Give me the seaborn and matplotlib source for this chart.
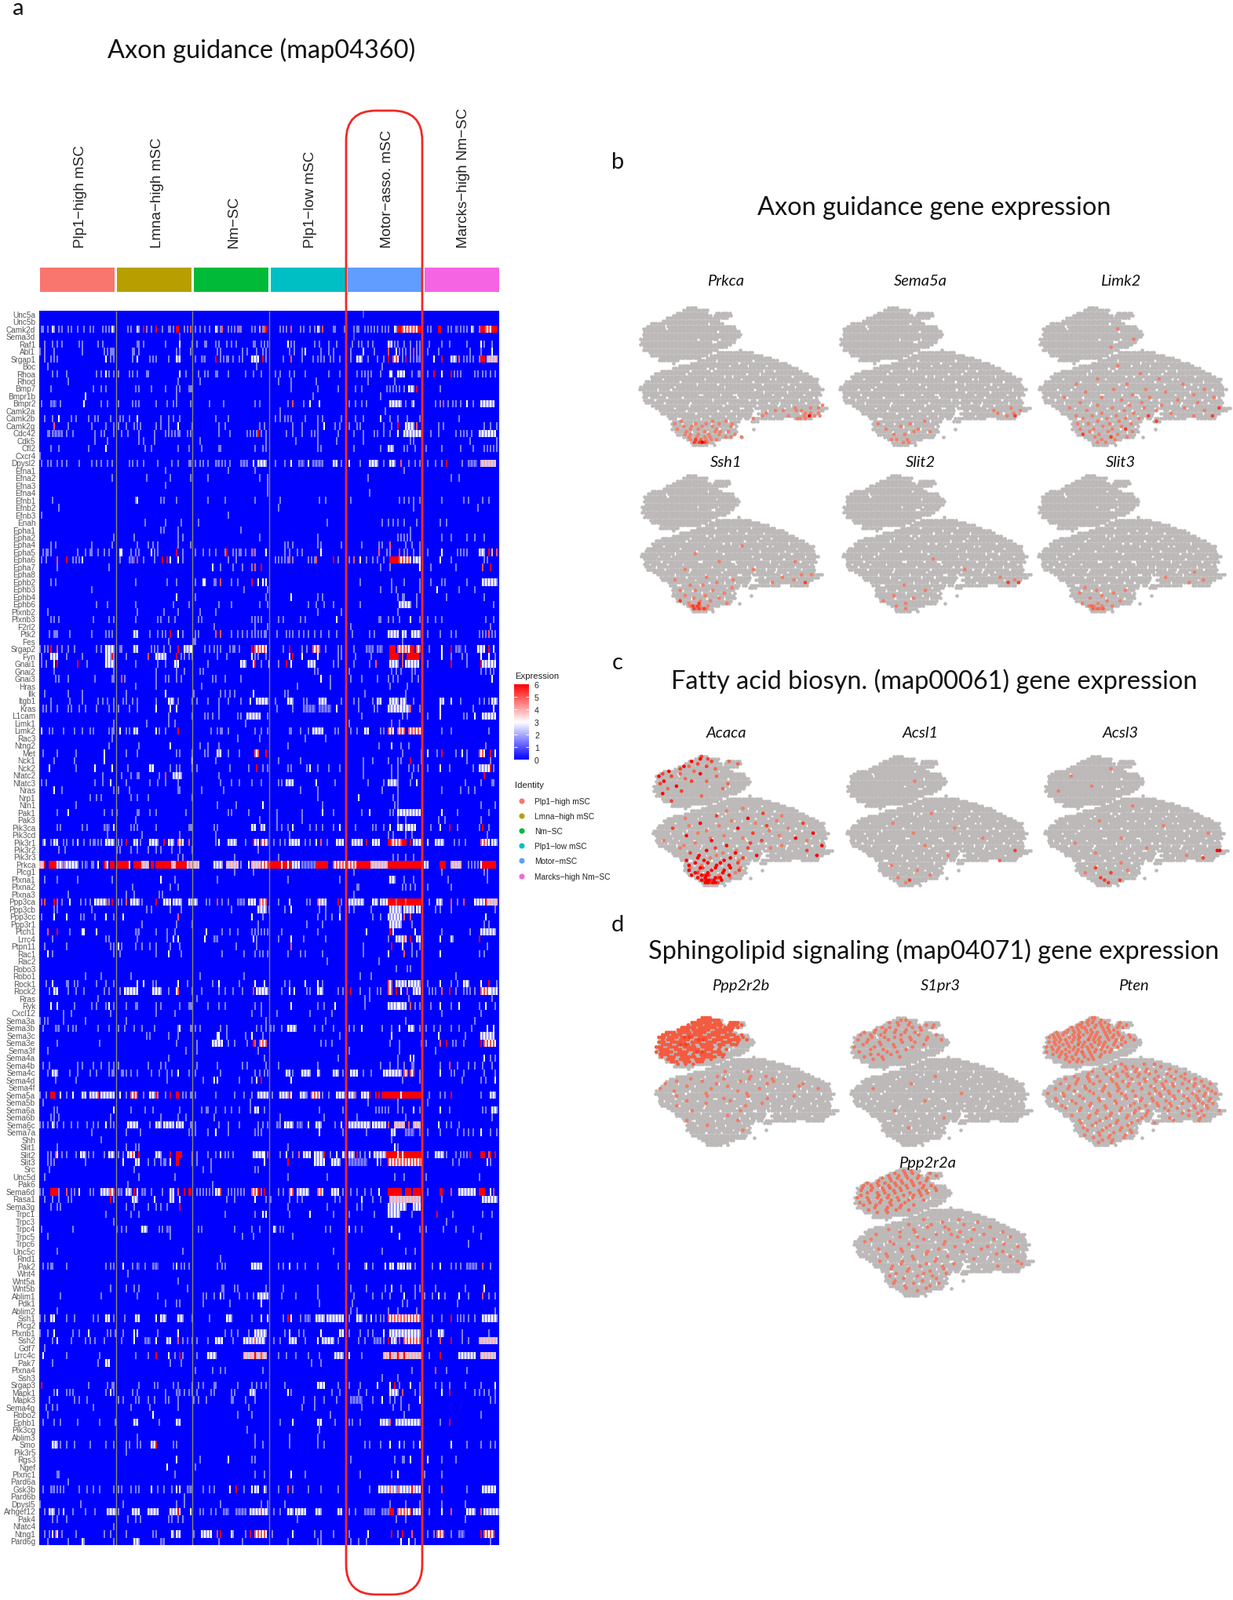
import numpy as np
import pandas as pd
import matplotlib
matplotlib.use("Agg")
import matplotlib.pyplot as plt
from matplotlib.colors import LinearSegmentedColormap, ListedColormap
from matplotlib.patches import FancyBboxPatch
import seaborn as sns

W, H = 1571, 2040

GROUPS = ["Plp1\u2212high mSC", "Lmna\u2212high mSC", "Nm\u2212SC", "Plp1\u2212low mSC", "Motor\u2212asso. mSC", "Marcks\u2212high Nm\u2212SC"]
IDENTITY = ["Plp1\u2212high mSC", "Lmna\u2212high mSC", "Nm\u2212SC", "Plp1\u2212low mSC", "Motor\u2212mSC", "Marcks\u2212high Nm\u2212SC"]
GROUP_COLORS = ["#F8766D", "#B79F00", "#00BA38", "#00BFC4", "#619CFF", "#F564E3"]

GENES = """Unc5a Unc5b Camk2d Sema3d Raf1 Abl1 Srgap1 Boc Rhoa Rhod Bmp7 Bmpr1b Bmpr2 Camk2a Camk2b Camk2g Cdc42 Cdk5 Cfl2 Cxcr4
Dpysl2 Efna1 Efna2 Efna3 Efna4 Efnb1 Efnb2 Efnb3 Enah Epha1 Epha2 Epha4 Epha5 Epha6 Epha7 Epha8 Ephb2 Ephb3 Ephb4 Ephb6
Plxnb2 Plxnb3 F2rl2 Ptk2 Fes Srgap2 Fyn Gnai1 Gnai2 Gnai3 Hras Ilk Itgb1 Kras L1cam Limk1 Limk2 Rac3 Ntng2 Met
Nck1 Nck2 Nfatc2 Nfatc3 Nras Nrp1 Ntn1 Pak1 Pak3 Pik3ca Pik3cd Pik3r1 Pik3r2 Pik3r3 Prkca Plcg1 Plxna1 Plxna2 Plxna3 Ppp3ca
Ppp3cb Ppp3cc Ppp3r1 Ptch1 Lrrc4 Ptpn11 Rac1 Rac2 Robo3 Robo1 Rock1 Rock2 Rras Ryk Cxcl12 Sema3a Sema3b Sema3c Sema3e Sema3f
Sema4a Sema4b Sema4c Sema4d Sema4f Sema5a Sema5b Sema6a Sema6b Sema6c Sema7a Shh Slit1 Slit2 Slit3 Src Unc5d Pak6 Sema6d Rasa1
Sema3g Trpc1 Trpc3 Trpc4 Trpc5 Trpc6 Unc5c Rnd1 Pak2 Wnt4 Wnt5a Wnt5b Ablim1 Pdk1 Ablim2 Ssh1 Plcg2 Plxnb1 Ssh2 Gdf7
Lrrc4c Pak7 Plxna4 Ssh3 Srgap3 Mapk1 Mapk3 Sema4g Robo2 Ephb1 Pik3cg Ablim3 Smo Pik3r5 Rgs3 Ngef Plxnc1 Pard6a Gsk3b Pard6b
Dpysl5 Arhgef12 Pak4 Nfatc4 Ntng1 Pard6g""".split()

# expression: "col" or "from-to", ":value", 293 columns across
HITS = {
"Unc5a": "206:1",
"Camk2d": "1 2 5 8-9:3 12 14 18 20 24 28 32 34 40 42 44 46-47:3 56 58 62-63:3 66:6 68 71 74:6 78 82 83 85 87-88:6 92 94 96:5 99 102 105 108 112-113:3 115 116:5 120 122 124 126 127:5 128 135 137 140:4 142 143:5 144:6 153 155 157 160:5 166 168 172 175 177-178:3 180:5 187 188 194 200 202 203 207 209 211 213 215 218 220 222 226-227:3 228-230:6 231-240:5 241-243:6 247 249 254-255:6 260 262 265-266 268 270 272 275-276:3 280 281-283:6 284-287:5 288-291:6",
"Sema3d": "89:1 200:1",
"Raf1": "3 8 11 14 25 27 37 40 62 63 66 80 89:3 97 100 105 106 112 114 119 122 125 136 137 141 143 145 158:3 160 162 175 178 184 189 199 203 205 209 212 222-224:3 226 228 232 236 240 242 248 256 261 272 281:3 283 288",
"Abl1": "0 3 9 27 41 43 45 46 47 59 60 63 87 89 96 113 115 129 132 138 142 144 159 162 167 169:3 179 184 187 198 206:3 213 222:5 227:3 229 231 233 236 238:5 240 242 247 254 274 281 288:3",
"Srgap1": "3 7 9 11 42:3 45 47 59 62:3 70 72 74 82 87-89:3 99 103-105 112:6 115 117 119 120 123 127 129 135-139:3 142:6 144 155 160:5 167 174 177 179 181 185 187 191 195 198 202-205:3 209 215 219 222:6 225-228:5 231 233:6 236 238 240-242 251:3 256:6 262-265:3 267:5 270 272 274 276 280 281-283:6 285-291:4",
"Boc": "5 138 218",
"Rhoa": "8 11 17 36 39 42:3 44 47 50 57 59 62 68 69 89:3 93 101 105 107 112 113 120 131 136 141 150 153 159 162 169 184 191 202 205 207 209 211 217 223:3 224:3 228-232:3 237 241 242 247 251:6 256:3 262:6 264 266 268 277 279 282 284 287 290",
"Rhod": "18 88 102 152 160 176 209 226",
"Bmp7": "7 34 39 42 61 63 71 80 87 89 95 97 96 160 177 190 201 205 221 223 225 227 229 232 235-238:3 240:6 255",
"Bmpr1b": "29:3 87 174 217",
"Bmpr2": "1 7-10 13 28:3 39 43 50 59 61 63 74 81 85 87 96 108 117 137 140 158 161:5 168 172:3 178:3 197 201 205 208 223-230:3 233 237 238:3 252 255 257:5 260 263 265 268 272:3 276 281-289:3",
"Camk2a": "153 220",
"Camk2b": "3 8 12:3 20 23 31 35 37 45 51 53 57 62:3 77 82 85 89 112 120 150 153 156 158 160 169 177 180 192 201 206 217:3 223 228 234 242 267",
"Camk2g": "9:5 18 33 42 47 50 55 60 62 64 74 77 82 88:3 97 114 118 140 143 161 167 177 181:3 188 191 197 202 204 219 224 228:6 233-238:3 240:5 254 257 283 287 291",
"Cdc42": "5 6 8-14 17 21 35 39 41 47 52 56 63 73 80 82 84 86 88 89 94 96 114 121 132 134 136 138 139:6 141 144 157 161 167 173 175 177 190 195 200 206 213 215 219 223 228:3 232-243:3 249 254 265 268 270 272 275 280-290:3",
"Cdk5": "35 43 63 66 73 102 144 163 177 189 206 236 238 274 291",
"Cfl2": "7 12 31 42:3 67 71 88 95 103 114 115 137 142 144 177 179 200 217 222-225:3 232 234 239 246 256 268 276 283 285 287 289 291",
"Cxcr4": "0",
"Dpysl2": "1 5 7 11 14 17 25 33 36 39 43 46 57 59 62 66 75 84 88 95 96 99 102 104 107 112-114 116 118 121 128-132 136:3 139-144:3 150 156 160:3 165-168 171:3 174-180 187-189:3 192 197:3 204 210-215:3 219 223-226:3 230:5 235 239 242 247 252 256 259:6 269 273-278 281-290:4",
"Efna1": "80 120 137 232",
"Efna2": "46 68 83 96 107 140 145 209 262 267",
"Efna3": "80 145",
"Efna4": "145 210",
"Efnb1": "8 61 62:3 77 79 87 107 118 137 153 178 182 198 229 232 235 238 242 256 270 273 282 286",
"Efnb2": "12 152 238 279",
"Efnb3": "1 120",
"Enah": "67 80 90 101 183 218 222 225 228 232 240 255 259",
"Epha1": "77 79 88 128 236",
"Epha2": "47 60 88 91 140 177 228 230 232 234 236 256 262 272 277 283",
"Epha4": "7 10 33 46 62 69 72 75 88 96 156 158 161 177 179 192 195 205 216 218 223:5 233 237 242",
"Epha5": "2 4 5 7 24 29 32 33 37 41 44 51:3 52:3 58 61 63 71:3 73 75 87:6 91 99 104 108 112 118 119:6 123 125 127 128 131 135 136:6 137 144:3 156 159 164 167 179:3 216:5 221 223 229:5 232 234 238 242 247 256:3 266 268 270 272 280-283:3 286:6 288:4 291:5",
"Epha6": "1 4 11:5 17:6 21 23 25 27:3 51 57-60 62:5 66 73 78:6 81:6 83:3 88:3 91 120 125 150 152 154 156 158 159:5 161 171 173 175 176:5 187:6 190 195 197 200:5 204:3 208 212 215 219 223-228:6 229-236:5 238-242:3 255:3 262 283 285",
"Epha7": "11 44 110:3 115 123 129 135 137:5 141:6 217 223 242:3 249 265 282:5 287:6",
"Ephb2": "7 10 61 81 87 99 104:3 105:3 111 112 115:5 122 126 135:6 139:3 142:3 144:3 204 224 232 242 249 256 258 272 282-291:3",
"Ephb3": "33 130 145 217 224 227 242 253:3 267 277",
"Ephb4": "87:3 99 144 160:3 177 180 228 231 232 240 259 283",
"Ephb6": "36 43 61 85 95 114 122 140 145 171 176 181 187 204 229-236:3 240 289",
"Plxnb2": "5 62 79 88 102 112 177 192 228",
"Plxnb3": "7 9 12 34 44 47 61 75 77 82 86 101 103 135 137 139 141 152 155 166 169 189:3 216 217 222 225 229 236:3 242 247 252 256 284 289",
"F2rl2": "111 137 145 198 287",
"Ptk2": "6 9 10 11 19 33 42 44 46 60-62:3 70 75 78 80 83:6 88:3 91 99 101 112:5 115:5 122 126 129 132 135 137 139 141 143 144 151 157 159 161 165 168 171 175 179 184 189 199 210 213 222-228:3 231-233:3 237-242:3 247 255 262 265 280 282 284 286:5 288 290",
"Fes": "82 98 99 231",
"Srgap2": "0 3 5 7:6 11:5 14 18 22 36 39 42-47:3 51 52 60-62:3 71 73 75 79 83 88:6 92-96:3 97:3 105 108 111 113 115 121 123 124 127 135:6 137-144:5 155 159:6 167 170 174-178:5 182 190 192 200 208-212 215-218 223-226:6 228-235:5 236-238:6 240-242:5 248 256:3 262:6 265-268 271 279-283:3 286:6 289:3",
"Fyn": "1 7-11:3 17 27 42-45:3 46:6 47 55 69:5 74-80:3 87:6 90 92 95 97 113 119 135:3 137 139 144 159:3 161:6 167:3 177:3 190 192 201 211 223-228:6 231:5 234-241:6 256:3 262 269 272 281:3 286:3 290",
"Gnai1": "1 4 9:3 11:6 24:6 30 42-47:3 61 75 80 86-88:3 107 128-131:3 136:3 137:6 141 146:3 152 157:6 160:3 171-175:3 187 190 200 210 214:5 223-228:3 231:5 233-241:3 247 262:6 272 281:6 282-290:3",
"Gnai2": "9 47 74 87 92 102 104 175 177 197 224 227 230 237 239 281 284 287 289",
"Gnai3": "10 12 18 35 46 47 52:5 54 74 80 82 87 90 110 112 118 128 179:3 185 198 205 215 222 225 228 237 241 288:3",
"Hras": "61 74 103 164 185 223 234",
"Ilk": "3 18 27 55 80:3 98 115 118 121 124 136:3 156 158 207 233",
"Itgb1": "7 19 27 37 40 43 47 53 55 59 62 74 82-85:3 88 97 100 107 114 120 128 134:3 138-145:3 150 158-161:3 168 170 178-182:3 192 200 203 212 215-217:3 223-228:3 230-233:3 238 255-257:3 262:3 268 280 283 286 288-291:3",
"Kras": "2 4 7 11 18 20 25 29 36 44 47 50 57 62 74:3 83:3 87:3 114 151 161 168-175 178-185 189:3 195 203 213 215 222-227:3 228-235:3 236:5 242 255:3 276 289:3",
"L1cam": "82 97 105 107 110 114 126 128 132-140:3 145 205 231 234 247 255:3 270 272 277:3 282-290:3",
"Limk1": "47 68 82 86 131 197 224 229",
"Limk2": "1:3 6 8 15 22 27 32 34 44 46 47 51:3 55 57 60-62:3 74:3 76 80 88:6 109 113 115 116 120 137 141 145 159 160 166 171 174-180:3 188 190 198 202 207-209:3 217 219 222-225:5 228-232:5 235-243:5 256 262 286",
"Rac3": "46 126 140 169 182",
"Ntng2": "44 63 83:3 102 107 114 158 216 224:3 230 235 284",
"Met": "2 11 23 41:3 55 62 87 89 97 105 107 113-115:3 120 127 137-139:5 144:6 231 243 247:3 253 256:6 265 269:3 272 280-283:5 287:6 290:3",
"Nck1": "9 22 41:3 97:3 112 152 166 206 212 222 228 230 236:6 243 272 287",
"Nck2": "6:3 23 35:3 46:3 56 70-72:3 83 87 89 97 100 121 133 138:6 142 145 158 160 170 172:3 177 184 191 206 224 228 235 238 241 247 255:3 261 276 280-286:3 287:6 289",
"Nfatc2": "40 52 58 62 63 76 80:5 85-90:3 114 206 224 228 237 283:6",
"Nfatc3": "1 4 35 40 45:3 55 70 75 80 88 115 122 127 135 141 152 154 157-161:3 176:3 188 209 219 222-227:3 228 236 240:3 271 281 288 289",
"Nras": "9:3 14 47 50 57 88 89 103 117 166 177 218 228 256 268 273 277",
"Nrp1": "32 36 39 58 62 69 97 177 203:3 225 228",
"Ntn1": "23 113 125 142:3 180 226 228 281 290",
"Pak1": "11 18:3 41 46 49 62 63 70 74 93 120 122 133 151 167 180:3 187 205 210:3 223 225 228-242:3 256:3 266 286",
"Pak3": "61 140 151 167 228 233 254 258 281",
"Pik3ca": "11 13 27 30 41-44 47:3 58 60 62 74 95 97 96 111 113 135-137:3 141-143:3 151 154 158 161:3 172 176 180 187 191:3 195 201 212 214 219 223:3 228-231:3 233-239:3 249 255:3 261:6 266 280 282:6 286",
"Pik3cd": "43 65 89 112 159 222 225 233 237 285",
"Pik3r1": "2 3:3 7 9-11:3 15 17 21 24:3 28 32 34 35 37 39 42-47:3 50 52 55:6 60-62:3 64 70-75:3 79:6 82-85:3 88-91:5 95:5 112 114:3 120-125:3 131 136:6 137-139:3 141-144:5 145 149 153 156 159-165:3 169 172 176:3 179:5 183 189-193:3 199-205:3 208:6 212-216:3 222-223:6 224-230:5 231-233:6 236:6 238-243:3 247:3 252-257:3 264 267 271 281-286:5 288-291:3",
"Pik3r2": "12 16 49 51 58 62 69 74 77 84 89 97 139",
"Pik3r3": "88 91 124 152 225 228 233 238",
"Prkca": "0-2:4 3:6 6-10:6 11-20:3 15:5 21-24:3 27 29-30 33 34 37:3 41:6 42-43:5 45-47:6 49-56:6 57:3 60-64:6 65-69:4 71-72:6 74-83:6 84-86:4 87-93:6 94-95:3 96-97:4 98-101:4 111-116:3 119-126:4 128 133:3 135-140:4 141-145:5 146-160:6 154:3 158:3 161-165:3 167-175 176-183:6 187-195:5 196-201:5 202-210:6 211-221:4 222-243:6 245-247:3 255-258:6 262-268:4 273 275 277 279 281:3 282-290:6",
"Plcg1": "124 136 200 256 283 285",
"Plxna1": "3 11 24 46 77:3 86 113 158 191 223-226:3 232 238 260 285",
"Plxna2": "59 83 88 202 203 231 233 236 239 247 262",
"Plxna3": "18 55 60 76 78 200",
"Ppp3ca": "1:5 3:5 9:6 11:5 14 19:3 26 29 32 35-42:3 43:6 44 46:6 50 52 55:5 58-63:3 65 74:6 79-83:3 85-90:3 95-100:3 106 108 113:5 116 120 126-130 133-137:3 140-144:5 152 159:3 170 172 177:5 178-182:3 190:6 192 197-206:3 212-215:3 217-221:3 222-243:6 227:5 233:5 248 253-256:3 262:5 266 270:5 277-283:3 284:6 285-291:4",
"Ppp3cb": "9 11 33 68 71 83 90 122 139-144:3 146 156 160:3 178 182 191 197 200 211 223-230:3 232-238:3 240-242:3 252 255 262 290",
"Ppp3cc": "1 9:3 17:3 26 28 35 42:3 47 53:3 88:5 135:3 142 177 182 186 191:3 212 217 222-230:3 232:5 236:5 284:3",
"Ppp3r1": "65 87 97 139 170 180 223-230:3 237 283 286",
"Ptch1": "5:5 11:6 19 27:3 28:3 36:3 61-63 74 81 86 106:3 116 121 126 135 137 139 141 143 145 154 177 208:3 223:6 225:3 239:3 256 274 281-290:3",
"Lrrc4": "8 42 44 62 81 85:3 88:3 105:3 111-113 136:3 138 152 160:3 168 182 222 227-233:3 232:5 236:6 240-242:3 255:3 262-263:3 280:6",
"Ptpn11": "3 17 45 47 50:3 52 61 65 70 74 83 89 125 138 160:5 206 224:6 231:3 237 242 285",
"Rac1": "5:3 8 47 51 74 82:3 90 116 130 137 140 142 145 158 166 169 180 206 222:3 232:5 237 240 255:3 280 283",
"Rac2": "183 216",
"Robo3": "227 234 236",
"Robo1": "29 39 58 102 130 204 211 265",
"Rock1": "4 8:3 17 18 22 24 36 42 47 62:3 66:3 72 74 88:3 94 110 114:3 127 137:3 143:3 156 159 169:3 177:3 180 222-224:5 227-233:3 235-242:3 247 255:3 262 266 270-273:3 281:3 286:6 291",
"Rock2": "6 9-11:3 18 23 28 41 44 51 54-62:3 72-77:3 82 87:3 88:5 97 103 114 118 123 129 136:5 138-145:3 154 159:3 162:3 170 172 177-180:3 190 193 198:6 204 210 215 217 222-224:5 227:6 230:3 234:5 238-242:3 248 250 252 256:5 261:6 265 270 272 274 277 281-286:5 287-291:3",
"Rras": "37 100 207 210 235 288",
"Ryk": "7:3 11:3 22 33 36 42 44:3 47 55 61 62 74 77 89 95 96 97 107 114 118 137 141 160:3 177 181 188:3 195 207 222-228:3 229-233:3 236:5 239 242 249 255:3 262 267:3 280 284:3 290",
"Cxcl12": "15 20 45 74 86 135 141 151 172 186 256 281",
"Sema3a": "0 3 5 15 29 55 144 182 233 277",
"Sema3b": "2 10-12 18 21 23 37 44 50 54 60 65 73 88 89:3 96 97 99 102 115 119 138 141 144 147 149 154 158-163:3 175 180 187 197 200 205:3 218 224 229:3 235-238:3 242 246 251 255 262 267 275 285:3 289:3",
"Sema3c": "68 70 82 88 113:3 114:3 119 131 135:3 142 191 224:3 254:3 271 281-289:3",
"Sema3e": "11 38 87 100 110-116:3 120 124 132 136:6 137:5 140-144:5 179 182 186 223 229 243 246 255:5 259:6 263 265 270 281:6 283-290:5",
"Sema3f": "5 93 100 139 197 229 252",
"Sema4a": "82 143 190 228 236:3 238:3 283:3 287 290",
"Sema4b": "2 6 24 27 34 39 44 47 50 69 77 80 100 113 129 132 144 152 177 217 223 228 232 237 238 255 261:5 266 273 277 282 288",
"Sema4c": "5 8-11:3 19 24 32 36 44 46 47 52 53 55 58 62 71 76 81 84 88:3 95 99 115 137 140 143 145 157-159:3 161 167-172:3 177-178:3 187-190:3 193 198-202:3 206 211 219-230:3 232-234:5 236-238:5 242 255:3 262 264 270 283 290",
"Sema4d": "10 23 81 104 111:3 113:3 127 135 138:3 141:6 160:3 231 242 269 281 284 290:3",
"Sema5a": "0 4 7-9:6 13:3 17 21:3 27-29:3 32-36:3 37:5 39-47:3 51:3 55 58-61:5 62:6 66 70-73:3 74:6 75 80 83:6 87-88:6 91 93 96 97 99 112 124 130 135 139-145:3 148 153-158:3 159:6 160:3 166-169:3 170 173-178:5 180 184 189-194:3 195:6 197-200:3 201:5 205-209:3 210:6 214:6 216:6 218-243:6 230:3 248 255 258 262:6 281 287-290:3",
"Sema5b": "2 134 209 228 247",
"Sema6a": "9 11 47:3 58 67 72 89 103 106 107 112 118 122 127 134 137-139:3 143 178 193 214 216 218 220 222 228 231 238:3 242 255:3 261 282 284 288-291:3",
"Sema6b": "7 9 12 45 77 88 93 111 153 181 202 233 288",
"Sema6c": "0 2 5 8-9:3 11 15 20 24 30 34 37 42:3 45 47 56-62:3 70 74-77:3 79-85:3 87-91:3 96 97 99 114 120 127 139 142 145 151-153 156-161:3 164-167 171:3 176-179:3 188 192:3 197-210:3 212-220:3 222:5 226-232:4 235:5 238-242:4 254:3 259 262 267",
"Sema7a": "33 55 64 95 97 99 107 112:3 120 137 139 141 178:3 193 208 224-226:3 233-238 242 247 255 266 270 273 276 281:3 287 291",
"Shh": "39 224",
"Slit1": "11 55 61 63 158 226:3 228",
"Slit2": "5 7 10-11:5 14 17 23 26-28:3 29 31 34 41 44-47:3 50 53 56-58:3 59:5 60:3 63:6 74-77:3 83:6 87-90:6 97:5 100 107 112 115:3 118 120 123 136-142:3 143:3 145:5 153 157:3 161 165:5 168-172:3 175-180:3 181:6 185 189:3 193-195:3 197-200:3 202:6 204 207 210:3 213-220:3 221-243:6 228:3 231:3 247 252-257:3 259 265 268 270 272 274:6 281-283:6 286:5 287:6 290:6",
"Slit3": "5 7 9 29 53:3 61-63:3 69 73 77 79 80 83:3 87:6 88:6 97 100 109 143:3 158:6 175-181:3 186-191:3 197-208 215:3 217 222-243:5 263 267 285:3 287",
"Src": "6 60 104 109 137 139",
"Unc5d": "3 63 86 158 183 226 232 246 280",
"Pak6": "56 110",
"Sema6d": "0 2 7-11:6 12 17:5 20 22 25:3 32 34 39-44:3 45-47:5 50-52 55-58:3 60:6 62:3 65-67 71 78 83-85:3 88:5 92:6 95:6 96:6 100 102 104 106 108 110 112-114:3 115:5 120 122 124 126 128 130 135-138:5 139:6 141:5 143:6 152 155 159-161:5 164-171:3 177-180:5 186-190:3 193 198 202 207 211 216:3 222-230:6 233-236:6 238-242:6 247 255-256:6 262:5 267-277:3 280-283:6 287:3 289:5",
"Rasa1": "3 8 12 18 20 45:6 47 59-62:3 73:3 83-85:3 89:3 119 124 137:3 144 147 159 164 167 188 191 205:3 212 217 223-242:4 256 282-291:3",
"Sema3g": "7 11 13 55 60 69 74 77 81 89:6 158 183 202 205 222-233:3 238-242:3",
"Trpc1": "42 58 63 118 137 142:3 144:3 159 172:3 187 197 213 222-229:3 237 253:6 263 282 288",
"Trpc3": "47 259",
"Trpc4": "1 21 49 52 55 65-68:3 76 78 81-83 101 103 124 135 140 149-150:3 153 155 182 185 197:3 201 205 224:3 242 246 257 265 276",
"Trpc5": "5 83 129 136 161 229:3 281",
"Trpc6": "273",
"Unc5c": "11 91 187 218 233 239",
"Rnd1": "115",
"Pak2": "2 5 7 8 17 42 45 47 53:3 59 62-63 67 72-75 85 87:3 90 92 95 113 116 118 135-141:3 152 155 159:3 164 169 177 190 197 207 208:3 212 220:3 223-225:3 228-232:3 234-236:3 239 250 255:3 262 265 268 272-278 282:5 287",
"Wnt4": "56",
"Wnt5a": "88",
"Wnt5b": "45 55 60 63 94 116 117 124 126 144 155 177 198 208 220 224:3 230 239 242 252 271 283:3",
"Ablim1": "13 39 62 75 104 106 111 115:3 117 127 132 136 139-145:3 154 163 177 200 212 218 223 232:3 239 245 250 254:3 258 267:3 273 282:5 286 290",
"Pdk1": "80 87 89 104 121 141:3 178 199 231 234 266",
"Ablim2": "11 198 202 222 228 240 290",
"Ssh1": "0 3 7-9:3 17 22 34 37 42-44:3 47 54 61-63:3 74:3 77-80:3 88-91:3 97 108 119-122:3 135 141:3 145:3 155 158:6 160:3 166 169-172 176-181:3 183-193:3 197 202-205:3 208 211:3 214 217 219 222-242:5 250 256 262:6 266 268 270 273 277 282-291:3",
"Plxnb1": "0 5 9:3 21 25 31:3 43 45 48 53 60:3 62:3 75 88:3 118 122 126 133 137-144:3 156 159:3 165 168 179:3 191-193:3 197 204 209 212 219:3 223-242:3 249 254-257:3 269 286",
"Ssh2": "8 11:3 20 29 32 35 41 52 60:3 67-70 74:3 81-83:3 88:5 91 94 97 100 107 112-116:3 123 130-143:3 137:5 149 153 159-163:3 169 177:3 180-187:3 190 203 207 213-217 219 222:6 224-227:3 229:5 232-242:5 247 255:5 262:6 269 273 280-291:4",
"Gdf7": "3",
"Lrrc4c": "2:3 17 38 61 69 74:6 82:3 86 89:6 91 100 107-112:3 130-144:4 137:6 141:5 152 157 163 171 178 188-193:3 197:3 205 219-243:4 223:6 228:6 232:6 248 255:6 267-277:3 281-290:4",
"Pak7": "8 37 42-44:3 83 90 173 179",
"Plxna4": "99 110 115 118 142 237 252:5 259 272",
"Ssh3": "218 228",
"Srgap3": "1:6 31 43 46 47 63 73 75 85 88 97 101 104 111 112 126 135 138 141 144 156 177-181:3 190 197 204 215:3 223:3 226:6 229 236:3 242 252 256 261 271 281 290:3",
"Mapk1": "9 11:3 17 19 21 42 45:3 47 59 62 80 87-89 92 95 97 100 109 111 122 124 134-137:3 158:3 160 186 191 203 208 223-228:3 231:5 239 242 256:3 261:6 277 280 283 286 290",
"Mapk3": "6 22 25 30 50 53 61 63 69 73 80 82 88 98 101 106 122 123 131 137 168 175 181 189 198-205 212 218:3 223 226 230 242:3 287 290",
"Sema4g": "4 8 11 34 58 70 88 133 167 175 205 225 230 235",
"Robo2": "5 72:3 126 135 185 232 281",
"Ephb1": "2 9 13 24 38 48 60-62:3 76 87-89:3 153 161:3 177-179:3 188 197 199 204 217-222:3 223:5 227-242:3 255 261:6",
"Pik3cg": "132 178",
"Ablim3": "62 137 159 177",
"Smo": "8-11:3 13 17 22 32 42 47 55 57 62 64 71-73:3 74:6 85 87 137 142 159 177 181 207 210 217 223:3 229:3 232 238 242:3 262:3 272 281 287 290",
"Pik3r5": "55",
"Rgs3": "87:3 102 120:3 135 137 198 226 231 232 236:3 247:3 256 265",
"Ngef": "81:3 99",
"Plxnc1": "11 12 86 137 143 160:3 169 204 224 228:3 245 256",
"Pard6a": "18",
"Gsk3b": "2 7-9 11 13 15 25 30 34 38 47 50 52 58 61 63 71:3 75 79 84 87:3 89:3 94-97 104 108 111 121:3 125:6 130 135:3 137-139:3 143:3 144 152 158:5 161 171 179 190 210 216-242:3 223:5 228:5 237:6 248 256:5 272 282-290:3",
"Pard6b": "92",
"Dpysl5": "0 26 53 87 92 115 141 145 156 223 233 242 256 271",
"Arhgef12": "3 6-9:3 12 15:3 21 29 35 43-48:3 50 59-63:3 69-75:3 83-87:3 88:6 89:3 96:3 102 104 109 112 117-120 125-131 134-140:3 141:5 142-145:3 149 153 158-161:3 163-169:3 176-179:3 190-192:3 197 201 207-213 218-222 223-225:6 228-236:5 238-242:3 248 256:3 262:5 272-277:3 281:5 283-292:3",
"Pak4": "8 11 17 56 61 64 82 84 88 91 164 227 233 271",
"Nfatc4": "47",
"Ntng1": "3 6 8:3 10-11:5 14 23 41 45 55 72 74 84-85:3 87-89:3 98 103-109:3 113:5 115:6 122-123:3 131 134:6 137-144:5 148 161:3 175 179 187 197 209:3 224:6 228 231:6 237:5 247 251 253-257:5 262 267-270 281:6 283-289:5",
"Pard6g": "5 18 27-28:3 47 60-63:3 77-79 114 129 158 177 179 198 203 208 230:3 235:3 239 287",
}
N_COLS = 293
HIT_LEVEL = 1.5

# grey cloud of the embedding, per row of a 73x53 grid: start, end columns
CLOUD_SPANS = [
[(19,22)],[(17,26)],[(15,26),(30,35)],[(13,27),(29,35)],[(11,34)],[(9,30)],[(5,32)],[(3,36)],[(2,37)],[(2,38)],
[(2,39)],[(2,38)],[(1,37)],[(1,36)],[(1,35)],[(2,33)],[(2,30),(39,39)],[(4,27),(30,43)],[(5,26),(28,47)],[(8,23),(26,50)],
[(8,15),(23,53)],[(13,13),(20,56)],[(16,58)],[(13,60)],[(9,62)],[(6,64)],[(5,66)],[(5,68)],[(3,68)],[(2,68)],
[(1,69)],[(0,70)],[(2,69)],[(2,69)],[(2,68)],[(2,68)],[(3,69)],[(5,44),(46,68)],[(7,43),(45,72)],[(8,43),(47,70)],
[(9,43),(46,68)],[(11,42),(47,66)],[(12,42),(44,55),(60,66)],[(13,38),(43,45)],[(13,37)],[(13,37)],[(13,37),(44,44)],[(14,37)],[(15,36)],[(17,35),(39,39)],
[(19,31)],[(20,28)],[(21,26),(29,29)],
]
# small gaps inside the cloud
CLOUD_GAPS = """10,7 27,6 30,9 31,12 28,13 29,13 23,12 11,8 28,24 33,26 46,25 50,27 57,29 23,33 24,33 36,33 37,33 26,38 44,31 48,32 55,34
15,42 16,42 21,44 27,41 34,43 39,38 40,38 45,35 50,36 60,30 63,33 19,37 12,31 30,29 39,27 16,28 6,35 53,37 58,37 22,40 32,37 31,46 26,47 37,41 8,33 42,22 35,22 52,24
9,27 14,30 18,25 22,29 25,27 29,23 33,30 36,26 41,25 44,28 48,24 52,27 55,30 59,26 62,28 65,31 11,34 17,34 20,36 28,35 31,33 34,36 38,34 42,35 47,29 51,33 54,36 57,32 61,35 64,36 67,34
14,38 18,39 24,42 30,39 33,41 35,39 40,42 20,47 24,45 28,44 33,47 17,44 36,45 49,39 51,41 56,38 62,40 10,36 4,34 7,31 38,21 44,20 49,22 30,20 26,23 20,24""".split()

PRKCA = """37: 70
38: 69 66 60
39: 52 55 60 62
40: 49 64 66 69
41: 47 57 63 65:6 67 69
42: 44 61 64 62
43: 33 16 28
44: 14 22 31 26 36
45: 17 24 28 35 20
46: 15 20 23 30
47: 25 29 31 18 34
48: 18 20 23 27 37 31
49: 19 27 33 35 39 22 25
50: 22:5 24:4 26 20 28 30
51: 21:5 22 23:5 24:6 25:5 26"""
SEMA5A = """38: 65
39: 58 68
40: 60 66
41: 63 66:5
43: 32
44: 15 27
45: 23
46: 18 30
47: 28 34
48: 21 25
50: 20 22 26
51: 24 26"""
LIMK2 = """8: 30
12: 36
15: 27
22: 30
25: 38
27: 22 45
29: 14 33 54
31: 28 40 62
32: 18 48
33: 35 58
34: 10 24 42 66
35: 31 52
36: 16 39 60
37: 22 34 46
38: 12 28 40 55 68:5
39: 18 32 44 62
40: 24 36 50
41: 14 20 29 41:5 58 65:5
42: 17 26 33 38
43: 22 30 44:5
44: 15 19 27 35
45: 24 31
46: 16 21 28 33:5
47: 19 26 35
48: 17:5 23 30
49: 21 27:5 33
50: 24 29
51: 22 25"""
SSH1 = """27: 40
30: 22
33: 31 61
36: 18 45
38: 64 68
39: 26 56
40: 14 37 61
41: 30 52 65:5
42: 20 25
43: 36
44: 16 22 29
45: 33
46: 18 26
47: 21 31
48: 16:5 24 28
49: 19 23:5 34
50: 20 21:5 22 23:5 24 27
51: 21:5 22 23:5 24 25:5 26"""
SLIT2 = """32: 35
36: 47
39: 60
40: 66
41: 63:5 67:5
42: 24
44: 32
46: 20
47: 27
48: 16
49: 24
50: 21
51: 24"""
SLIT3 = """37: 60
39: 49
40: 64
41: 58
43: 18
44: 23 34
45: 16 29
46: 25
47: 20
48: 27 32
49: 17 23
50: 20 21:4 22 25 29
51: 21:4 22 23:4 24 25:4"""
ACACA = """0: 20:5
1: 19:6 22:5
2: 16:6 24:5 31
3: 18:5 34
4: 13:6 15 22:5
5: 11:5 25
6: 7:6 17
7: 4:5 11 19:6
8: 3:6 8:5 26
9: 13
10: 5:6 16:5 22
11: 3:5 30
12: 10:6
13: 6 28
14: 12:5
15: 4:6
16: 20
18: 8:5
21: 36
22: 30
23: 44:5
24: 26:5 52
25: 13 38:6
26: 32 50
27: 19:6 60:5 41
28: 27 46:5 15
29: 8:5 34:6 54
30: 22 47
31: 40:5 64:6 18
32: 14:6 29 51
33: 36 57:6 23
34: 5 24:6 44:5 62
35: 17 39:5
36: 30:6 52 68:6 13
37: 11 38:5 25:5 47
38: 22:6 62:5 34
39: 15:5 33:6 28
40: 26 42:6 66:6 19:6
41: 18:6 36:5 23 31:6
42: 14:6 29:6 21:6 35
43: 22:6 34:5 17:6 27:6
44: 15:6 26:6 20 31:6
45: 19:6 20:5 31:6 25:6 15 35
46: 15:6 24:6 35:5 19 29:6
47: 17:6 18:5 28:6 22:6 33
48: 20:6 21:5 22:6 23:5 31:6 16:6 27
49: 18:6 25:6 26:5 27:6 21:6 31
50: 20:6 21:5 22:6 23:6 24:5 25:6 28:6
51: 21:6 22:6 23:5 24:6 25:6 26:5"""
ACSL1 = """10: 27
23: 33
27: 18
29: 42
31: 26
33: 53
36: 31
38: 66:5
40: 40
42: 60:4
44: 18
46: 28
48: 33
49: 20
50: 25:5
51: 23"""
ACSL3 = """5: 26
8: 11
12: 19
14: 6
20: 35
26: 22
28: 47
31: 64
33: 30
35: 12
37: 40
38: 68:6 69:6
39: 20
40: 56
41: 62:5
43: 30
45: 20:5
46: 33
47: 16 26:5
49: 22:5
50: 24:5 30:5
51: 25:5"""
PPP2R2B = """0: 19-22
1: 17-25
2: 15-22 24-26 30-33
3: 13 15-18 20-26 29-32 34
4: 11-16 18-24 26 28-31 33
5: 9-13 15-21 24-30
6: 5-8 10-14 16-20 23-28 30
7: 3-5 7-10 13-18 21-25 28-31 34
8: 2-4 6-9 11 12:5 13 14:5 15 18-22 25-29 32-33 35
9: 3 5-7 10-13 16 17:5 18 19:5 20 23-26 29-33 36
10: 2-4 7-12 15-18 21-24 27-30 33
11: 3-6 9 10:5 11 12:5 13 15 18-22 25-27 30-32
12: 1-3 6-9 12-16 19-23 26
13: 2-5 8-10 13-17 20-22 25 28
14: 1 3-7 10-13 16 17:5 18 19:5 20 23-26
15: 2-5 8-12 15 18-22 25-27
16: 3 6-8 11-16 19-24 27
17: 5-7 10-13 16-19 22
18: 7-9 12-14 17-19
19: 9 12 15
22: 28 37
24: 25 38 44
25: 14 27 37 46
26: 9 19 34 47
27: 4 24 44 58
28: 13 29 57
29: 2 22 41 64
30: 8 33
31: 20 36
32: 9 21 37 55
33: 27 44
34: 13 30
35: 20 42
36: 9 36
38: 15 34
40: 29
42: 13 33
44: 21
46: 35"""
S1PR3 = """1: 20 22
2: 16 19 24
3: 19 23 30 33
4: 13 16 25 28 33
5: 10 14 18 22 28
6: 6 10 14 18 22 26
7: 4 8 12 20 27 34
8: 9 14 18 24 31
9: 3 7 15 20 24 30 36
10: 7 12 21 26
11: 5 12 17 29
12: 2 10 18 25
13: 8 13 22
14: 4 15 19
15: 8 11 16
16: 6 13 20
17: 9 13
24: 34
27: 24
29: 9
31: 44
34: 30
38: 18
41: 37
45: 23"""
PTEN = """0: 20-21
1: 18 20 23
2: 16 18 20 23 25 31
3: 14 15 18 21 23 26 30 33
4: 12 14 16 17 21 24 26 30 32
5: 10 12 14 17 19 24 26 28
6: 6 9 10 13 15 18 20 22 25 27 30
7: 4 6 8 12 14 16 19 21 25 28 30 34
8: 3 5 7 11 13 15:4 19 21 23 26 28 32 35
9: 5 7 9 12 14 18:4 20 22 26 29 31 36
10: 3 5 7 10 12 15 17 21 23 25 29 33
11: 5 8 10 14:4 16 19 22 24 28 31
12: 2 4 7 11 13 16 18 20 24 26 30
13: 4 6 9 12 14 18 21 23 27
14: 2 6 8 11 14 16:4 19 21 25 27
15: 4 7 9 13 16 19 23
16: 7 10 12 17 20 23
17: 9 12 14 18 20
18: 11 14 16
19: 31 40 44
20: 29 33 36 47
21: 24 28 33 37 41 50
22: 20 27 32 37 41 45 53
23: 18 25 29 33 38 42 49 56
24: 13 18 22 30 34 38 46 51 55
25: 9 14 18 27 35 40 44 52 56 60
26: 14 19 23 28 32 41 45 49 58 63
27: 7 13 20 29 34 38 47 51 55 60 66
28: 11 17 25 30 34 43 48 52 60 64
29: 5 10 17 24 30 39 44 48 57 65
30: 13 19 24 30 36 45 50 54 62 67
31: 2 8 20 26 31 42 46 50 59 64 68
32: 9 15 27 33 37 47 52 56 61 64
33: 5 16 22 33 39 43 52 57 61 66
34: 6 12 23 29 39 44 49 58 62 66
35: 13 19 29 36 45 50 55 63 67
36: 8 19 25 35 41 46 51 60 65
37: 9 15 25 31 38 48 53 60 65
38: 15 22 31 37 42 50 58 63 70
39: 21 27 36 41 55 61
40: 12 19 27 34 41 58 64
41: 18 25 33 39 50 62
42: 15 23 30 38 52 62
43: 15 21 29 35 44
44: 20 27 34
45: 16 25 31
46: 18 24 31 35
47: 22 28 35
48: 17 23 27 33
49: 20 26 32
50: 24 28
51: 22 27"""
PPP2R2A = """1: 20 23
2: 17 21 24 31
3: 14 18 21 26 33
4: 12 15 18 22 26 30
5: 10 15 19 23 29
6: 6 10 13 17 20 24 27
7: 4 7 10 14 17 21 24 28 31
8: 4 8 12 15:4 19 22 28 33
9: 3 7 12 16 19 26 29 33
10: 6 10 13 17 23 27 30
11: 3 10:4 14 20 24 27
12: 2 6 10 14 18 24
13: 6 11 15 18 22 28
14: 3 7 11 15 21
15: 4 9 15 19 24
16: 9 14 19
17: 6 13 17 22
18: 10 14
21: 28 42
22: 36 50
23: 22 31 44
24: 30 37 55
25: 14 24 38 48
26: 19 25 43 60
27: 9 33 39 52
28: 19 26 42 63
29: 7 28 47 56
30: 5 15 37 46
31: 16 22 36 60
32: 26 41 54 66
33: 10 19 34 51
34: 20 30 44 60
35: 13 29 57
36: 14 24 38 63
37: 24 33 48
38: 11 20 33 66
39: 19 29 40 67
40: 16 27 36 58
41: 15 22 36
42: 22 31
43: 17 28 37
44: 15 26 32
45: 20 33
46: 17 28
47: 16 24 34
48: 21 31
49: 21 29
50: 26"""

# panel: gene, hits, usual level, title centre, cloud box (left, top, right, bottom) in reference pixels
PANELS = [
("Prkca", PRKCA, 3, (925, 358), (813, 393, 1053, 568)),
("Sema5a", SEMA5A, 3, (1173, 358), (1068, 393, 1312, 568)),
("Limk2", LIMK2, 3, (1428, 358), (1322, 393, 1567, 568)),
("Ssh1", SSH1, 3, (925, 590), (815, 607, 1047, 780)),
("Slit2", SLIT2, 3, (1173, 590), (1072, 607, 1313, 780)),
("Slit3", SLIT3, 3, (1428, 590), (1321, 607, 1560, 780)),
("Acaca", ACACA, 4, (925, 935), (830, 965, 1060, 1129)),
("Acsl1", ACSL1, 3, (1173, 935), (1077, 965, 1313, 1129)),
("Acsl3", ACSL3, 3, (1428, 935), (1329, 965, 1564, 1129)),
("Ppp2r2b", PPP2R2B, 4.4, (944, 1257), (833, 1298, 1067, 1460)),
("S1pr3", S1PR3, 3.5, (1198, 1257), (1082, 1298, 1314, 1460)),
("Pten", PTEN, 3.5, (1444, 1257), (1327, 1298, 1560, 1460)),
("Ppp2r2a", PPP2R2A, 3.7, (1181, 1483), (1086, 1490, 1316, 1652)),
]


def read_hits(text, level):
    out = []
    for tok in text.split():
        span, _, val = tok.partition(":")
        a, _, b = span.partition("-")
        out.append((int(a), int(b or a), float(val) if val else level))
    return out


def px_axes(fig, left, top, right, bottom):
    return fig.add_axes([left / W, 1 - bottom / H, (right - left) / W, (bottom - top) / H])


sns.set_theme(style="white")
plt.rcParams["font.family"] = ["Liberation Sans", "DejaVu Sans"]
fig = plt.figure(figsize=(W / 100, H / 100), dpi=100)

# heatmap; a run below full red is a band of stripes, not a solid block
matrix = np.zeros((len(GENES), N_COLS))
for i, gene in enumerate(GENES):
    for a, b, v in read_hits(HITS.get(gene, ""), HIT_LEVEL):
        if b > a and v < 6:
            matrix[i, a:b + 1] = 0.6 * v
            matrix[i, a:b + 1:2] = v
        else:
            matrix[i, a:b + 1] = v
expr = pd.DataFrame(matrix, index=GENES)
expr_cmap = LinearSegmentedColormap.from_list("expr", ["#0000FF", "#FFFFFF", "#FF0000"])

ax = px_axes(fig, 50, 397, 636, 1970)
cax = px_axes(fig, 655, 873, 674, 969)
sns.heatmap(expr, ax=ax, cmap=expr_cmap, vmin=0, vmax=6, xticklabels=False, yticklabels=GENES,
            cbar_ax=cax, cbar_kws={"ticks": range(7)})
ax.set_ylabel("")
ax.tick_params(axis="y", length=0, pad=3.5, labelsize=7.2, labelcolor="#555555", rotation=0)
ax.vlines([N_COLS * k / 6 for k in range(1, 6)], 0, len(GENES), color="#8a8a6a", lw=1)
cax.tick_params(length=0, labelsize=7.5, pad=5, labelcolor="#222222")
ax.collections[0].colorbar.outline.set_visible(False)
for x0, x1 in [(0, 0.2), (0.8, 1)]:
    cax.hlines(range(1, 6), x0, x1, color="white", lw=0.7)
for s in cax.spines.values():
    s.set_visible(False)

# group colour bar
bar = px_axes(fig, 49, 340, 637, 374)
sns.heatmap(pd.DataFrame([range(6)]), ax=bar, cmap=ListedColormap(GROUP_COLORS), cbar=False,
            xticklabels=False, yticklabels=False, linewidths=1, linecolor="white")

# embedding panels
cloud_x, cloud_y = [], []
gaps = {tuple(int(v) for v in g.split(",")) for g in CLOUD_GAPS}
for row, spans in enumerate(CLOUD_SPANS):
    for a, b in spans:
        for col in range(a, b + 1):
            if (col, row) in gaps:
                continue
            cloud_x.append(col + 0.5 * (row % 2))
            cloud_y.append(row)
cloud = pd.DataFrame({"x": cloud_x, "y": cloud_y})
hot_cmap = LinearSegmentedColormap.from_list("hot", ["#D9A79B", "#F08C78", "#F2775F", "#F55033", "#FF0000"])

for gene, hits, level, _, box in PANELS:
    pax = px_axes(fig, box[0], box[1], box[2], box[3])
    sns.scatterplot(data=cloud, x="x", y="y", color="#BDB9B9", s=11, linewidth=0, ax=pax, clip_on=False)
    rows = []
    for line in hits.splitlines():
        r, _, toks = line.partition(":")
        r = int(r)
        for a, b, v in read_hits(toks, level if r < 20 else min(level, 3.2)):
            for col in range(a, b + 1):
                rows.append((col + 0.5 * (r % 2), r, v))
    hot = pd.DataFrame(rows, columns=["x", "y", "v"]).sort_values("v")
    sns.scatterplot(data=hot, x="x", y="y", hue="v", palette=hot_cmap, hue_norm=(1, 6), s=11, linewidth=0,
                    ax=pax, legend=False, clip_on=False)
    pax.set_xlim(0, 72)
    pax.set_ylim(52, 0)
    pax.axis("off")

# everything placed in reference pixels
top = fig.add_axes([0, 0, 1, 1], zorder=10)
top.set_xlim(0, W)
top.set_ylim(H, 0)
top.axis("off")
top.patch.set_alpha(0)

TITLE_FONT = ["Lato", "DejaVu Sans"]
for label, x, y in [("a", 23, 11), ("b", 787, 207), ("c", 787, 845), ("d", 787, 1179)]:
    top.text(x, y, label, fontsize=21, family=TITLE_FONT, ha="center", va="center", color="#111111")
for label, x, y in [("Axon guidance (map04360)", 333, 64), ("Axon guidance gene expression", 1190, 265),
                    ("Fatty acid biosyn. (map00061) gene expression", 1190, 868),
                    ("Sphingolipid signaling (map04071) gene expression", 1190, 1212)]:
    top.text(x, y, label, fontsize=23.4, family=TITLE_FONT, ha="center", va="center", color="#111111")
for gene, _, _, (x, y), _ in PANELS:
    top.text(x, y, gene, fontsize=14.5, family=TITLE_FONT, style="italic", ha="center", va="center", color="#111111")

for k, label in enumerate(GROUPS):
    top.text(54 + 97.6 * (k + 0.5), 316, label, rotation=90, fontsize=13.5, ha="center", va="bottom", color="#222222")

# motor cluster frame
r = 38
top.add_patch(FancyBboxPatch((441 + r, 142 + r), 97 - 2 * r, 1891 - 2 * r, boxstyle=f"round,pad={r},rounding_size={r}",
                             fc="none", ec="#EE2A24", lw=2))

# legends
top.text(656, 862, "Expression", fontsize=8.2, va="center", color="#222222")
top.text(656, 1001, "Identity", fontsize=8.2, va="center", color="#222222")
legend_y = [1022, 1041, 1060, 1079, 1098, 1118]
sns.scatterplot(x=[665] * 6, y=legend_y, hue=IDENTITY, hue_order=IDENTITY, palette=GROUP_COLORS, s=26, linewidth=0,
                ax=top, legend=False)
for y, label in zip(legend_y, IDENTITY):
    top.text(681, y, label, fontsize=7.3, va="center", color="#222222")
top.set_xlim(0, W)
top.set_ylim(H, 0)

fig.savefig("out.png", dpi=100)
